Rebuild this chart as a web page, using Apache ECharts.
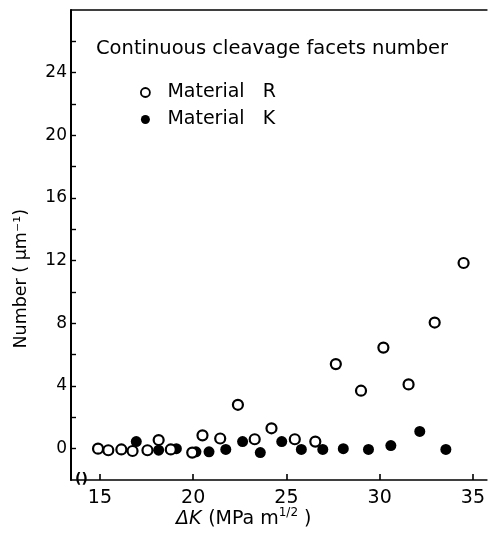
<!DOCTYPE html>
<html>
<head>
<meta charset="utf-8">
<script src="https://cdn.jsdelivr.net/npm/echarts@6/dist/echarts.min.js"></script>
<style>
  html, body { margin: 0; padding: 0; background: #fff; }
  #chart { width: 488px; height: 537px; }
</style>
</head>
<body>
<div id="chart"></div>
<script>
// Continuous cleavage facets number vs. stress intensity range
const materialR = [
  [14.9, 0.0], [15.45, -0.1], [16.15, -0.05], [16.75, -0.15], [17.55, -0.1],
  [18.15, 0.55], [18.8, -0.05], [19.95, -0.25], [20.5, 0.85], [21.45, 0.65],
  [22.4, 2.8], [23.3, 0.6], [24.2, 1.3], [25.45, 0.6], [26.55, 0.45],
  [27.65, 5.4], [29.0, 3.7], [30.2, 6.45], [31.55, 4.1], [32.95, 8.05],
  [34.5, 11.85]
];
const materialK = [
  [16.95, 0.45], [18.15, -0.1], [19.1, 0.0], [20.15, -0.2], [20.85, -0.2],
  [21.75, -0.05], [22.65, 0.45], [23.6, -0.25], [24.75, 0.45], [25.8, -0.05],
  [26.95, -0.05], [28.05, 0.0], [29.4, -0.05], [30.6, 0.2], [32.15, 1.1],
  [33.55, -0.05]
];
const xTicks = [15, 20, 25, 30, 35];
const yTicks = [0, 4, 8, 12, 16, 20, 24];
const yMinorTicks = [2, 6, 10, 14, 18, 22, 26];

const FONT = 'DejaVu Sans';
const INK = '#000';

const chart = echarts.init(document.getElementById('chart'), null, { renderer: 'canvas' });

chart.setOption({
  backgroundColor: '#fff',
  animation: false,
  title: {
    text: 'Continuous cleavage facets number',
    left: 91,
    top: 34,
    textStyle: { fontFamily: FONT, fontSize: 19.5, fontWeight: 'normal', color: INK }
  },
  legend: {
    orient: 'vertical',
    left: 135,
    top: 78,
    itemWidth: 34,
    itemHeight: 9,
    itemGap: 8,
    textStyle: { fontFamily: FONT, fontSize: 19, color: INK },
    data: [
      { name: 'Material   R', icon: 'circle', itemStyle: { color: '#fff', borderColor: INK, borderWidth: 1.8, opacity: 1 } },
      { name: 'Material   K', icon: 'circle', itemStyle: { color: INK, borderWidth: 0, opacity: 1 } }
    ]
  },
  grid: { left: 71, right: 0, top: 10, bottom: 57 },
  xAxis: [
    {
      type: 'value',
      min: 13.45,
      max: 35.75,
      axisLine: { onZero: false, lineStyle: { color: INK, width: 1.6 } },
      axisTick: { inside: true, length: 6, customValues: xTicks, lineStyle: { color: INK, width: 1.6 } },
      axisLabel: { customValues: xTicks, margin: 9, fontFamily: FONT, fontSize: 19, color: INK },
      splitLine: { show: false }
    },
    {
      type: 'value',
      position: 'top',
      min: 13.45,
      max: 35.75,
      axisLine: { show: true, onZero: false, lineStyle: { color: INK, width: 1.6 } },
      axisTick: { show: false },
      axisLabel: { show: false },
      splitLine: { show: false }
    }
  ],
  yAxis: {
    type: 'value',
    min: -2,
    max: 28,
    axisLine: { show: true, onZero: false, lineStyle: { color: INK, width: 2 } },
    axisTick: {
      inside: true, length: 5,
      customValues: yTicks.concat(yMinorTicks),
      lineStyle: { color: INK, width: 1.4 }
    },
    axisLabel: { customValues: yTicks, margin: 4, fontFamily: FONT, fontSize: 17, color: INK },
    splitLine: { show: false }
  },
  graphic: [
    {
      type: 'text',
      left: 12,
      top: 209,
      rotation: Math.PI / 2,
      style: {
        text: 'Number ( \u00b5m\u207b\u00b9)',
        fontFamily: FONT, fontSize: 17.5, fill: INK
      }
    },
    {
      type: 'text',
      left: 176,
      top: 507,
      style: {
        text: '{i|\u0394K}  {n|(MPa m}{s|1/2}{n| )}',
        rich: {
          i: { fontFamily: FONT, fontSize: 19, fontStyle: 'italic', fill: INK },
          n: { fontFamily: FONT, fontSize: 19, fill: INK },
          s: { fontFamily: FONT, fontSize: 12, fill: INK, padding: [0, 0, 12, 0] }
        }
      }
    },
    {
      type: 'text',
      left: 75,
      top: 472,
      style: { text: '()', fontFamily: FONT, fontSize: 14, fontWeight: 'bold', fill: INK, backgroundColor: '#fff' }
    }
  ],
  series: [
    {
      name: 'Material   K',
      type: 'scatter',
      data: materialK,
      symbol: 'circle',
      symbolSize: 11,
      itemStyle: { color: INK, opacity: 1 },
      z: 3
    },
    {
      name: 'Material   R',
      type: 'scatter',
      data: materialR,
      symbol: 'circle',
      symbolSize: 10,
      itemStyle: { color: '#fff', borderColor: INK, borderWidth: 2.2, opacity: 1 },
      z: 4
    }
  ]
});
</script>
</body>
</html>
